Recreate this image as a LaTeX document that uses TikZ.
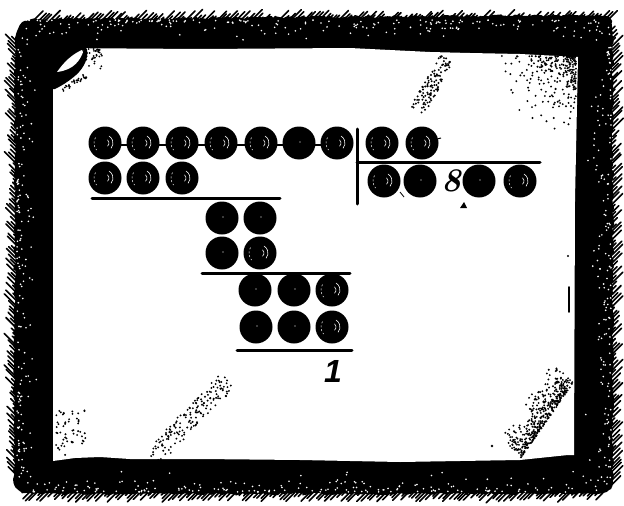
\documentclass[tikz,border=0pt]{standalone}
\usepackage{fontspec}
\usetikzlibrary{decorations.pathmorphing}
\newfontfamily\onefont{Liberation Sans}
\begin{document}
\begin{tikzpicture}[x=1pt,y=-1pt,
  bead/.style={circle,fill=black,inner sep=0pt,minimum size=33pt,
    path picture={\begin{scope}[shift={(path picture bounding box.center)},rotate=#1]
      \draw[white,line width=0.6pt,line cap=round] (-40:8pt) arc[start angle=-40,end angle=60,radius=8pt];
      \draw[white,line width=0.6pt,line cap=round] (-50:4pt) arc[start angle=-50,end angle=50,radius=4pt];
      \draw[white,line width=0.5pt,dash pattern=on 2pt off 2pt] (150:11pt) arc[start angle=150,end angle=220,radius=11pt];
    \end{scope}}},
  bead/.default=0,
  pbead/.style={circle,fill=black,inner sep=0pt,minimum size=33pt,
    path picture={\fill[white] ([shift={(1pt,1pt)}]path picture bounding box.center) circle (0.7pt);}},
  rulel/.style={line width=3pt,line cap=round},
  hatch/.style={line width=1.6pt,line cap=round},
  speck/.style={white},
  stip/.style={black}]
\useasboundingbox (0,0) rectangle (624,506);
\pgfmathsetseed{11}
% ---------- frame ----------
\fill[black,decorate,decoration={random steps,segment length=3pt,amplitude=1.3pt}]
  (15,42) .. controls (15,26) and (22,20) .. (40,19) -- (300,17) -- (598,15)
  .. controls (609,15) and (613,21) .. (613,32) -- (613,480)
  .. controls (613,490) and (607,494) .. (596,494) -- (32,494)
  .. controls (20,494) and (14,488) .. (14,476) -- cycle;
% hatching outside
\foreach \i in {0,...,145}{
  \pgfmathsetmacro\xx{34+\i*3.95}\pgfmathsetmacro\ll{3+8*rnd}\pgfmathsetmacro\yy{20+2*rnd}
  \draw[hatch] (\xx,\yy) -- ++(\ll,-\ll);}
\foreach \i in {0,...,110}{
  \pgfmathsetmacro\yy{40+\i*3.95}\pgfmathsetmacro\ll{3+8*rnd}\pgfmathsetmacro\xx{17-2*rnd}
  \draw[hatch] (\xx,\yy) -- ++(-\ll,-\ll);}
\foreach \i in {0,...,115}{
  \pgfmathsetmacro\yy{30+\i*3.95}\pgfmathsetmacro\ll{3+8*rnd}\pgfmathsetmacro\xx{611+2*rnd}
  \draw[hatch] (\xx,\yy) -- ++(\ll,-\ll);}
\foreach \i in {0,...,145}{
  \pgfmathsetmacro\xx{30+\i*3.95}\pgfmathsetmacro\ll{3+7*rnd}\pgfmathsetmacro\yy{491+2*rnd}
  \draw[hatch] (\xx,\yy) -- ++(-\ll,\ll);}
% white specks in the band
\foreach \i in {1,...,200}{
  \pgfmathsetmacro\xx{25+585*rnd}\pgfmathsetmacro\yy{20+22*rnd*rnd}
  \fill[speck] (\xx,\yy) circle (0.9);}
\foreach \i in {1,...,160}{
  \pgfmathsetmacro\yy{35+445*rnd}\pgfmathsetmacro\xx{17+22*rnd*rnd}
  \fill[speck] (\xx,\yy) circle (0.9);}
\foreach \i in {1,...,160}{
  \pgfmathsetmacro\yy{30+455*rnd}\pgfmathsetmacro\xx{611-26*rnd*rnd}
  \fill[speck] (\xx,\yy) circle (0.9);}
\foreach \i in {1,...,180}{
  \pgfmathsetmacro\xx{25+585*rnd}\pgfmathsetmacro\yy{492-24*rnd*rnd}
  \fill[speck] (\xx,\yy) circle (0.9);}
% inner white board
\fill[white] (53,48) -- (200,49) -- (350,48) -- (430,52) -- (470,53) -- (520,54) -- (578,57)
  -- (575,200) -- (574,455) -- (568,455) -- (520,460) -- (400,462) -- (300,460) -- (200,459)
  -- (130,459) -- (100,457) -- (75,458) -- (53,461) -- cycle;
% curled corner top-left
\fill[black] (52,47) -- (86,47) .. controls (90,56) and (84,68) .. (76,75)
  .. controls (68,82) and (61,86) .. (55,89) -- (52,89) -- cycle;
\fill[white] (57,72) .. controls (64,62) and (72,54) .. (84,49)
  .. controls (81,60) and (74,70) .. (57,72) -- cycle;
% stipple
\foreach \i in {1,...,45}{
  \pgfmathsetmacro\xx{82+20*rnd}\pgfmathsetmacro\yy{49+30*rnd*rnd}
  \fill[stip] (\xx,\yy) circle (1);}
\foreach \i in {1,...,30}{
  \pgfmathsetmacro\t{rnd}
  \pgfmathsetmacro\xx{60+25*\t+4*rnd}\pgfmathsetmacro\yy{88-15*\t+4*rnd}
  \fill[stip] (\xx,\yy) circle (1);}
\foreach \i in {1,...,110}{
  \pgfmathsetmacro\t{rnd}\pgfmathsetmacro\s{(rnd-0.5)*16}
  \pgfmathsetmacro\xx{447-30*\t+\s*0.85}\pgfmathsetmacro\yy{57+55*\t+\s*0.5}
  \fill[stip] (\xx,\yy) circle (1.1);}
\foreach \i in {1,...,260}{
  \pgfmathsetmacro\xx{576-90*rnd*rnd}\pgfmathsetmacro\yy{56+80*rnd*rnd}
  \fill[stip] (\xx,\yy) circle (1.05);}
\foreach \i in {1,...,55}{
  \pgfmathsetmacro\xx{56+30*rnd}\pgfmathsetmacro\yy{410+46*rnd}
  \fill[stip] (\xx,\yy) circle (1.05);}
\foreach \i in {1,...,160}{
  \pgfmathsetmacro\t{rnd}\pgfmathsetmacro\s{(rnd-0.5)*20}
  \pgfmathsetmacro\xx{152+76*\t+\s*0.7}\pgfmathsetmacro\yy{458-78*\t+\s*0.7}
  \fill[stip] (\xx,\yy) circle (1.05);}
\foreach \i in {1,...,420}{
  \pgfmathsetmacro\t{rnd}\pgfmathsetmacro\s{rnd*rnd*30}
  \pgfmathsetmacro\xx{573-52*(1-\t)-\s*0.7}\pgfmathsetmacro\yy{458-75*\t-\s*0.7}
  \fill[stip] (\xx,\yy) circle (1.05);}
\fill[stip] (492,446) circle (1.3);
\draw[line width=1.8pt,line cap=round] (569,287) -- (569,312);
\fill[stip] (568,256) circle (1.2);
% ---------- division ----------
\draw[line width=1.2pt] (105,145) -- (337,145);
\node[bead=0]   (a1) at (105,143) {};
\node[bead=20]  (a2) at (143,143) {};
\node[bead=-30] (a3) at (182,143) {};
\node[bead=10]  (a4) at (221,143) {};
\node[bead=60]  (a5) at (261,143) {};
\node[pbead]    (a6) at (299,143) {};
\node[bead=-10] (a7) at (337,143) {};
\node[bead=30]  (b1) at (105,178) {};
\node[bead=0]   (b2) at (143,178) {};
\node[bead=-60] (b3) at (182,178) {};
% divisor
\node[bead=0]   (r1) at (382,143) {};
\node[bead=40]  (r2) at (422,143) {};
\coordinate (r2t) at (441,138);
\draw[line width=1pt] (r2) -- (r2t);
% quotient
\node[bead=10]  (q1) at (384,181) {};
\node[pbead]    (q2) at (420,181) {};
\node[font=\fontsize{33}{33}\selectfont\bfseries\itshape, inner sep=0pt] (q8) at (451,181) {8};
\node[pbead]    (q3) at (479,181) {};
\node[bead=-20] (q4) at (520,181) {};
\fill[black] (460,208) -- (464,202) -- (467,208) -- cycle;
\draw[line width=0.8pt] (400,192) -- (404,197);
% lines
\draw[rulel] (357,129) -- (357,204);
\draw[rulel] (357,162) -- (540,162);
\draw[rulel] (92,198) -- (280,198);
% second stage
\node[pbead]    (c1) at (222,218) {};
\node[pbead]    (c2) at (260,218) {};
\node[pbead]    (d1) at (222,253) {};
\node[bead=20]  (d2) at (260,253) {};
\draw[rulel] (202,273) -- (350,273);
\node[pbead]    (e1) at (255,290) {};
\node[pbead]    (e2) at (294,290) {};
\node[bead=60]  (e3) at (332,290) {};
\node[pbead]    (f1) at (256,327) {};
\node[pbead]    (f2) at (294,327) {};
\node[bead=0]   (f3) at (332,327) {};
\draw[rulel] (237,350) -- (352,350);
\node[font=\onefont\fontsize{32}{32}\selectfont\bfseries\itshape, inner sep=0pt] (rem) at (333,371) {1};
\end{tikzpicture}
\end{document}
